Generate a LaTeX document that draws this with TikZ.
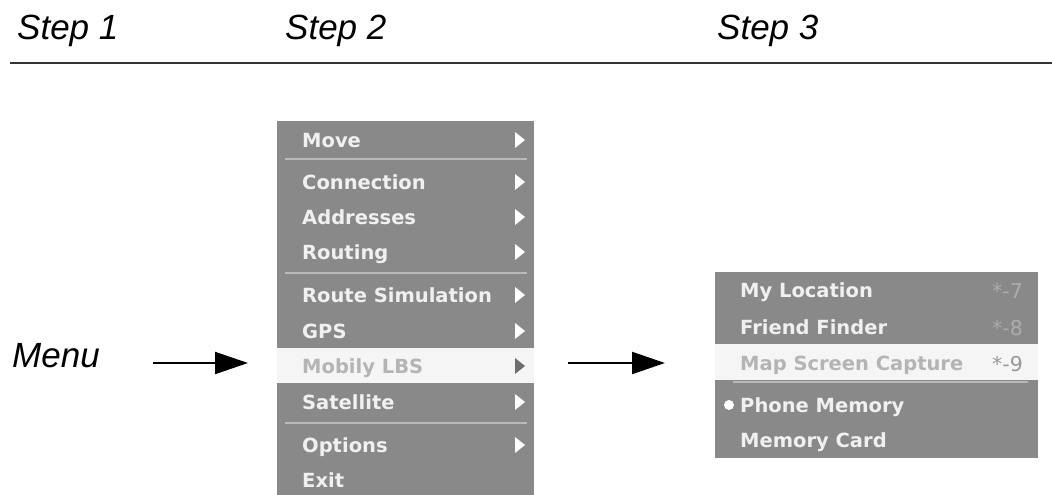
\documentclass[tikz,border=0pt]{standalone}
\usepackage{fontspec}
\setmainfont{Liberation Sans}
\newfontfamily\menufont{DejaVu Sans}
\usetikzlibrary{arrows.meta}
\definecolor{menugray}{RGB}{137,137,137}
\definecolor{hilite}{RGB}{245,245,245}
\definecolor{septone}{RGB}{185,185,185}
\definecolor{hitext}{RGB}{180,180,180}
\definecolor{hiarrow}{RGB}{110,110,110}
\definecolor{shortc}{RGB}{172,172,172}
\definecolor{itemtext}{RGB}{240,240,240}
\newcommand\subarr[2]{\fill[#2] (515,{#1-8}) -- (525,#1) -- (515,{#1+8}) -- cycle;}
\begin{document}
\begin{tikzpicture}[x=1pt,y=-1pt,
  steptitle/.style={anchor=base west, inner sep=0pt, font=\fontsize{35}{40}\selectfont\itshape},
  menuitem/.style={anchor=base west, inner sep=0pt, text=itemtext, font=\menufont\bfseries\fontsize{19.5}{22}\selectfont},
  hiitem/.style={menuitem, text=hitext},
  shortcut/.style={anchor=base east, inner sep=0pt, text=shortc, font=\menufont\fontsize{20.5}{22}\selectfont},
  menubox/.style={fill=menugray, draw=none, anchor=north west, inner sep=0pt},
  sep/.style={septone, line width=1.2pt},
  bigarrow/.style={line width=2pt, -{Triangle[length=33pt,width=22pt]}}]
\useasboundingbox (0,0) rectangle (1052,495);

% titles
\node[steptitle] (s1) at (17,40) {Step 1};
\node[steptitle] (s2) at (285,40) {Step 2};
\node[steptitle] (s3) at (717,40) {Step 3};
\coordinate (rl) at (10,63);
\coordinate (rr) at (1052,63);
\draw[line width=2pt, black!80] (rl) -- (rr);

% Menu label
\node[steptitle] (menu) at (12,367) {Menu};

% first menu
\node[menubox, minimum width=257pt, minimum height=374pt] (m1) at (277,121) {};
\fill[hilite] (277,348) rectangle (534,383);
\draw[sep] (285,159) -- (527,159);
\draw[sep] (285,273) -- (527,273);
\draw[sep] (285,423) -- (527,423);
\node[menuitem] (i1) at (302,147) {Move};
\node[menuitem] (i2) at (302,189) {Connection};
\node[menuitem] (i3) at (302,224) {Addresses};
\node[menuitem] (i4) at (302,259) {Routing};
\node[menuitem] (i5) at (302,302) {Route Simulation};
\node[menuitem] (i6) at (302,338) {GPS};
\node[hiitem] (i7) at (302,373) {Mobily LBS};
\node[menuitem] (i8) at (302,409) {Satellite};
\node[menuitem] (i9) at (302,452) {Options};
\node[menuitem] (i10) at (302,487) {Exit};
\subarr{140}{white}
\subarr{182}{white}
\subarr{217}{white}
\subarr{252}{white}
\subarr{295}{white}
\subarr{331}{white}
\subarr{366}{hiarrow}
\subarr{402}{white}
\subarr{445}{white}

% second menu
\node[menubox, minimum width=323pt, minimum height=186pt] (m2) at (715,272) {};
\fill[hilite] (715,344) rectangle (1038,380);
\draw[sep] (733,382) -- (1028,382);
\node[menuitem] (j1) at (740,297) {My Location};
\node[menuitem] (j2) at (740,334) {Friend Finder};
\node[hiitem] (j3) at (740,370) {Map Screen Capture};
\node[menuitem] (j4) at (740,412) {Phone Memory};
\node[menuitem] (j5) at (740,447) {Memory Card};
\node[shortcut] (k1) at (1023,298) {*-7};
\node[shortcut] (k2) at (1023,335) {*-8};
\node[shortcut, text=hitext!85!black] (k3) at (1023,371) {*-9};
\fill[white] (729,405) circle (5pt);

% arrows
\coordinate (a1s) at (153,363);
\coordinate (a1e) at (248,363);
\coordinate (a2s) at (568,363);
\coordinate (a2e) at (665,363);
\draw[bigarrow] (a1s) -- (a1e);
\draw[bigarrow] (a2s) -- (a2e);
\end{tikzpicture}
\end{document}
